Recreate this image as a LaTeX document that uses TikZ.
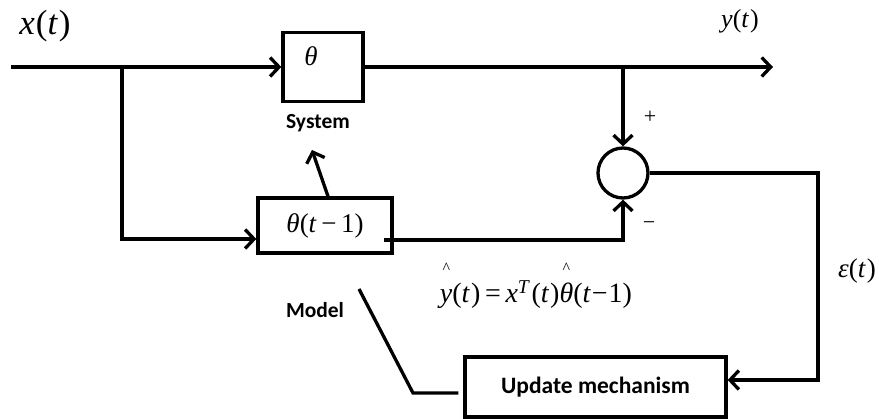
\documentclass[tikz,border=0pt]{standalone}
\usepackage{fontspec}
\setmainfont{Liberation Serif}
\newfontfamily\calib{Carlito}
\usetikzlibrary{arrows.meta}
\newcommand{\hatmark}[1]{\rlap{\makebox[#1][c]{\raisebox{29pt}{\fontsize{16}{16}\selectfont\upshape\textasciicircum}}}}
\begin{document}
\begin{tikzpicture}[x=1pt,y=-1pt,line width=3.3pt,
  blk/.style={draw,line width=3.3pt,inner sep=0pt,fill=white},
  arr/.style={-{Straight Barb[length=9pt,width=19pt]}},
  lbl/.style={font=\calib\bfseries\fontsize{21.5}{24}\selectfont},
  mth/.style={font=\fontsize{27}{30}\selectfont}]
\useasboundingbox (0,0) rectangle (879,419);

% blocks
\node[blk,minimum width=80pt,minimum height=69pt] (sys) at (323,67) {};
\node[mth] (th) at (311,56) {\textit{θ}};
\node[lbl] (syslbl) at (318,123) {System};
\node[blk,mth,minimum width=134pt,minimum height=55pt] (model) at (325,225.5)
  {\textit{θ}(\textit{t}\,−\,1)\hspace{4pt}};
\node[blk,circle,minimum size=50pt] (sum) at (623,173) {};
\node[blk,font=\calib\bfseries\fontsize{23.5}{26}\selectfont,minimum width=261pt,minimum height=60pt] (upd) at (595.5,387) {Update mechanism};

% labels
\node[font=\fontsize{35}{38}\selectfont] (xt) at (45,26) {\textit{x}\kern1pt(\textit{t}\kern1pt)};
\node[font=\fontsize{26}{28}\selectfont] (yt) at (740,21) {\textit{y}(\textit{t}\kern1pt)};
\node[mth] (et) at (857,271) {\textit{ε}(\textit{t}\kern1pt)};
\node[font=\fontsize{22}{24}\selectfont] (plus) at (650,117) {+};
\node[font=\fontsize{22}{24}\selectfont] (minus) at (649,226) {−};
\node[lbl] (modlbl) at (315,310) {Model};
\node[font=\fontsize{28}{30}\selectfont,anchor=base] (form) at (536,303)
  {\hatmark{0.45em}\textit{y}(\textit{t}\kern1pt)\,=\,\textit{x}\textsuperscript{\textit{T}}\kern1pt(\textit{t}\kern1pt)\hatmark{0.5em}\textit{θ}(\textit{t}\kern1pt−\kern1pt1)};

% coordinates
\coordinate (in) at (11,67);
\coordinate (b1) at (122,67);
\coordinate (b2) at (623,67);
\coordinate (out) at (773,67);
\coordinate (er) at (818,173);
\coordinate (tipA) at (312,150);
\coordinate (mtop) at (359,289);
\coordinate (mbend) at (413,393);

% connectors
\draw[arr] (in) -- (sys.west);
\draw[arr] (sys.east) -- (out);
\draw[arr] (b1) |- ([yshift=-13.5pt]model.west);
\draw[arr] (b2) -- (sum.north);
\draw[arr] ([xshift=-10pt,yshift=-14.5pt]model.east) -| (sum.south);
\draw[arr] (sum.east) -- (er) |- ([yshift=7pt]upd.east);
\draw[arr] ([xshift=3pt]model.north) -- (tipA);
\draw (mtop) -- (mbend) -- ([xshift=-5pt,yshift=-6pt]upd.west);
\end{tikzpicture}
\end{document}
